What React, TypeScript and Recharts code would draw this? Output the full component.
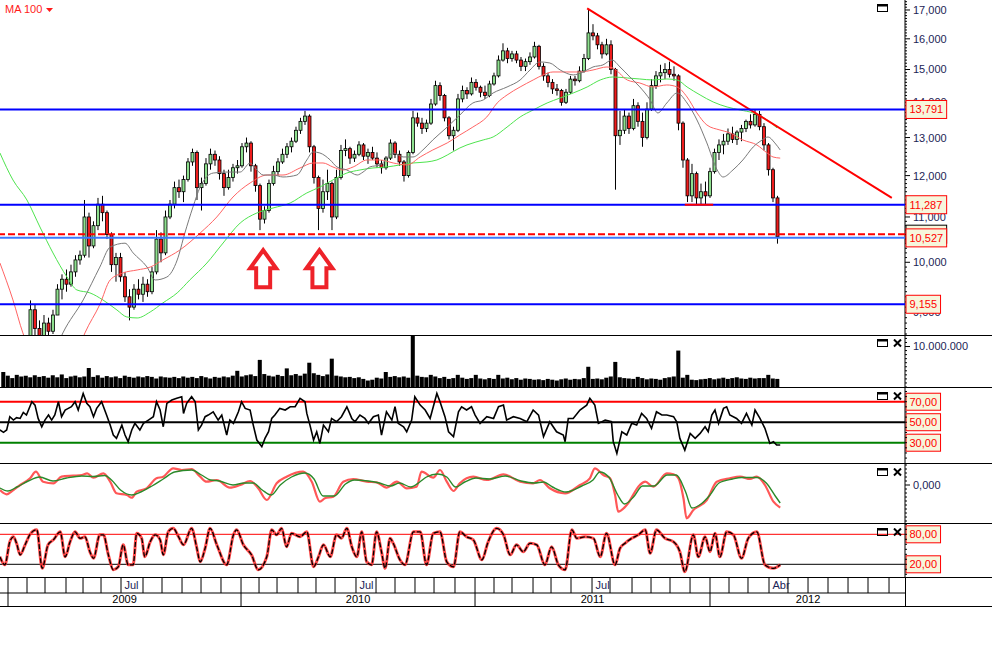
import React from "react";
import { ComposedChart, Bar, Line, XAxis, YAxis, ReferenceLine, ReferenceDot } from "recharts";

const FONT = '"Liberation Sans", Arial, sans-serif';
const TICK_COLOR = "#1c2456";
const CHART_W = 992;
const AXIS_W = 85;
const MARGIN = { top: 0, right: 2, bottom: 0, left: 0 };
// x is counted in weeks from the first trading week of 2009
const X_DOMAIN: [number, number] = [-1.78, 199.33];
const PRICE_DOMAIN: [number, number] = [8582, 17361];

// weekly candles [open, high, low, close], first one is week 4
const firstCandleWeek = 4;
const candles: [number, number, number, number][] = [
  [8300, 8550, 8050, 8450], [8450, 9230, 8400, 9050], [9050, 9150, 8500, 8700], [8700, 8850, 8300, 8450],
  [8450, 8950, 8400, 8800], [8800, 8900, 8500, 8650], [8650, 9050, 8600, 8950], [8950, 9550, 8950, 9450],
  [9450, 9750, 9250, 9650], [9650, 9850, 9400, 9550], [9550, 9950, 9500, 9800], [9800, 10150, 9700, 10050],
  [10050, 10250, 9950, 10150], [10150, 11400, 10100, 11000], [11000, 11100, 10100, 10350], [10350, 10900, 10300, 10800],
  [10800, 11450, 10700, 11300], [11300, 11500, 10900, 11100], [11100, 11150, 10500, 10600], [10600, 10650, 9800, 9950],
  [9950, 10200, 9600, 10100], [10100, 10200, 9600, 9700], [9700, 9800, 9200, 9300], [9300, 9450, 8850, 9100],
  [9100, 9550, 9050, 9450], [9450, 9650, 9250, 9350], [9350, 9700, 9200, 9550], [9550, 9650, 9300, 9400],
  [9400, 9900, 9350, 9800], [9800, 10700, 9750, 10500], [10500, 10650, 10000, 10200], [10200, 11150, 10150, 11000],
  [11000, 11400, 10950, 11300], [11300, 11850, 11200, 11700], [11700, 11900, 11450, 11600], [11600, 12000, 11350, 11900],
  [11900, 12450, 11850, 12350], [12350, 12700, 12250, 12600], [12600, 12650, 11400, 11700], [11700, 11950, 11150, 11800],
  [11800, 12450, 11750, 12300], [12300, 12700, 12150, 12550], [12550, 12650, 12250, 12400], [12400, 12500, 11900, 12050],
  [12050, 12150, 11500, 11700], [11700, 12150, 11650, 11950], [11950, 12300, 11850, 12200], [12200, 12400, 12050, 12250],
  [12250, 12850, 12200, 12750], [12750, 13000, 12600, 12850], [12850, 12900, 12100, 12250], [12250, 12300, 11600, 11750],
  [11750, 11800, 10700, 10950], [10950, 11250, 10850, 11150], [11150, 11900, 11100, 11800], [11800, 12250, 11750, 12100],
  [12100, 12450, 12000, 12350], [12350, 12700, 12300, 12550], [12550, 12850, 12450, 12750], [12750, 13000, 12600, 12900],
  [12900, 13300, 12850, 13200], [13200, 13550, 13100, 13450], [13450, 13750, 13350, 13600], [13600, 13650, 12600, 12750],
  [12750, 12800, 11800, 11950], [11950, 12000, 10700, 11200], [11200, 11900, 11100, 11600], [11600, 12150, 11400, 11800],
  [11800, 11850, 10700, 11000], [11000, 12150, 10950, 11950], [11950, 12800, 11900, 12650], [12650, 12950, 12500, 12700],
  [12700, 12750, 12300, 12450], [12450, 12650, 12350, 12550], [12550, 12900, 12500, 12800], [12800, 12850, 12400, 12500],
  [12500, 12700, 12300, 12600], [12600, 12750, 12400, 12450], [12450, 12600, 12200, 12300], [12300, 12400, 12050, 12200],
  [12200, 12500, 12150, 12450], [12450, 12950, 12400, 12850], [12850, 12900, 12450, 12550], [12550, 12650, 12250, 12350],
  [12350, 12400, 11850, 12000], [12000, 12650, 11950, 12600], [12600, 13750, 12550, 13550], [13550, 13700, 13300, 13400],
  [13400, 13550, 13100, 13250], [13250, 13500, 13150, 13400], [13400, 14100, 13350, 13950], [13950, 14650, 13900, 14500],
  [14500, 14600, 14050, 14200], [14200, 14250, 13450, 13550], [13550, 13600, 12950, 13050], [13050, 13300, 12650, 13200],
  [13200, 14250, 13150, 14100], [14100, 14500, 14000, 14350], [14350, 14450, 14100, 14250], [14250, 14750, 14200, 14600],
  [14600, 14700, 14350, 14450], [14450, 14500, 14150, 14300], [14300, 14500, 14100, 14200], [14200, 14650, 14150, 14550],
  [14550, 14900, 14500, 14800], [14800, 15450, 14750, 15300], [15300, 15850, 15250, 15600], [15600, 15700, 15200, 15350],
  [15350, 15600, 15250, 15500], [15500, 15600, 15200, 15300], [15300, 15400, 14950, 15100], [15100, 15350, 14950, 15250],
  [15250, 15550, 15150, 15400], [15400, 15900, 15350, 15750], [15750, 15800, 15000, 15100], [15100, 15200, 14650, 14800],
  [14800, 14900, 14450, 14600], [14600, 14700, 14250, 14400], [14400, 14550, 14200, 14350], [14350, 14400, 13900, 14000],
  [14000, 14400, 13950, 14300], [14300, 14800, 14250, 14700], [14700, 14800, 14500, 14650], [14650, 15100, 14600, 14950],
  [14950, 15500, 14900, 15350], [15350, 17000, 15300, 16200], [16200, 16500, 15950, 16100], [16100, 16200, 15650, 15800],
  [15800, 15900, 15350, 15500], [15500, 16000, 15450, 15800], [15800, 15950, 14850, 15000], [15000, 15050, 11650, 13050],
  [13050, 13750, 12800, 13200], [13200, 13800, 13100, 13600], [13600, 13700, 13100, 13250], [13250, 14100, 13200, 13900],
  [13900, 14000, 13300, 13450], [13450, 13700, 12750, 13000], [13000, 14000, 12950, 13800], [13800, 14700, 13750, 14500],
  [14500, 14950, 14400, 14800], [14800, 15150, 14600, 14900], [14900, 15200, 14700, 15000], [15000, 15250, 14750, 14850],
  [14850, 15100, 14650, 14800], [14800, 14850, 13200, 13400], [13400, 13450, 12200, 12400], [12400, 12450, 11350, 11500],
  [11500, 12300, 11350, 12050], [12050, 12100, 11280, 11450], [11450, 11800, 11300, 11600], [11600, 11850, 11300, 11500],
  [11500, 12200, 11450, 12100], [12100, 12700, 12050, 12600], [12600, 12950, 12400, 12800], [12800, 13100, 12550, 12900],
  [12900, 13250, 12800, 13100], [13100, 13300, 12850, 12950], [12950, 13200, 12800, 13150], [13150, 13350, 12900, 13250],
  [13250, 13500, 13150, 13450], [13450, 13650, 13250, 13350], [13350, 13800, 13300, 13650], [13650, 13750, 13200, 13300],
  [13300, 13400, 12650, 12800], [12800, 12850, 12000, 12150], [12150, 12200, 11350, 11450], [11450, 11500, 10400, 10550],
];

// moving averages [week, value]
const grayMA: [number, number][] = [
  [10.4, 8300], [12.2, 8620], [16.7, 9238], [20.4, 9900], [22.7, 10325], [26, 10410], [27.8, 10200], [30.9, 9900],
  [32.7, 9635], [35.3, 9695], [37.6, 10049], [39.3, 10635], [41.1, 11233], [42.7, 11715], [45.6, 12065], [48.7, 12090],
  [51.6, 12090], [53.8, 12320], [55.3, 12143], [56.7, 12015], [58.9, 12015], [61.1, 11965], [64.2, 12015], [66.4, 12401],
  [67.8, 12612], [69.3, 12585], [71.6, 12401], [73.1, 12220], [75.3, 12143], [77.6, 12015], [78.9, 12090], [80.4, 12220],
  [82.7, 12272], [85.6, 12585], [87.8, 12480], [90, 12480], [92.2, 12665], [94.4, 12934], [97.6, 13290], [100.4, 13630],
  [103.3, 13980], [105.6, 14069], [107.8, 14277], [110.9, 14459], [113.8, 14673], [116, 14985], [118.2, 15240], [120.4, 15207],
  [122.7, 14985], [125.6, 14830], [127.8, 14922], [130, 15080], [132.2, 15145], [134.2, 15304], [136, 15080], [138.2, 14766],
  [140.4, 14460], [142.7, 14069], [144.4, 13690], [146.4, 13980], [148.7, 14277], [150.9, 13980], [153.1, 13489], [155.3, 12853],
  [157.6, 12143], [158.9, 11965], [161.1, 12143], [163.3, 12401], [165.6, 12745], [167.6, 12934], [168.9, 13016], [170.4, 12853],
  [171.6, 12665],
];
const redMA: [number, number][] = [
  [-1.8, 9985], [1.1, 9238], [3.3, 8620], [7, 8050], [11.5, 7950], [15, 8200], [17.1, 8620], [20.4, 9150], [22.7, 9635],
  [25.6, 9780], [28.7, 9840], [31.6, 9900], [34.4, 10049], [38.2, 10262], [42.7, 10635], [46.4, 11000], [50, 11472],
  [53.8, 11815], [57.6, 12015], [61.1, 12015], [64.9, 12194], [67.8, 12323], [70, 12323], [72.2, 12220], [74.4, 12143],
  [76.7, 12220], [79.8, 12401], [82.7, 12401], [85.6, 12323], [88.7, 12272], [91.6, 12480], [94.4, 12665], [97.6, 12853],
  [100.4, 13070], [103.3, 13290], [106.4, 13575], [108.7, 13980], [110.9, 14218], [113.8, 14459], [116.7, 14673], [118.9, 14830],
  [121.1, 14922], [124.2, 14922], [127.1, 14922], [130, 14985], [133.1, 15080], [134.4, 15050], [137.6, 14673], [140.4, 14580],
  [143.3, 14459], [146.4, 14520], [148.7, 14459], [150.9, 14158], [153.1, 13690], [155.3, 13348], [158.2, 13208], [160.4, 13130],
  [163.3, 12934], [166.4, 12800], [168.7, 12585], [170, 12480], [171.6, 12450],
];
const greenMA: [number, number][] = [
  [-1.8, 12585], [1.1, 11890], [4.2, 11400], [7.1, 10770], [10, 10198], [13.1, 9696], [15.3, 9435], [18.2, 9377],
  [21.1, 9238], [24.2, 9046], [26.4, 8914], [28.7, 8895], [31.6, 9008], [34.4, 9180], [37.6, 9377], [40.4, 9635],
  [44.2, 9985], [47.8, 10414], [51.6, 10862], [55.3, 11093], [58.9, 11210], [62.7, 11328], [66.4, 11570], [69.3, 11715],
  [72.2, 11890], [75.3, 12065], [78.2, 12143], [81.1, 12194], [84.2, 12220], [87.1, 12272], [90, 12323], [93.1, 12350],
  [95.3, 12401], [97.6, 12530], [100.4, 12718], [102, 12800], [105.6, 12934], [107.8, 13016], [110.9, 13290], [113.8, 13575],
  [116.7, 13776], [119.8, 13980], [122.7, 14128], [125.6, 14277], [128.7, 14459], [131.6, 14673], [134.4, 14766], [137.6, 14735],
  [140.4, 14704], [143.3, 14673], [146.4, 14704], [148.7, 14673], [150.9, 14459], [153.8, 14218], [156.7, 14010], [159.8, 13863],
  [162.7, 13776], [165.6, 13690], [168.7, 13489], [170.9, 13264],
];

const trendLine: [number, number][] = [[128.7, 17060], [196.4, 11450]];
const supportSegment: [number, number][] = [[150.4, 11287], [156.7, 11287]];
const levelLines: [number, string][] = [[13791, "13,791"], [11287, "11,287"], [9155, "9,155"]];
const lowLevel: [number, string] = [10527, "10,527"];
const dashedLevel = 10609;
const arrowSpots: [number, number][] = [[56.7, 10300], [69.2, 10300]];

// weekly volume in millions, first value is week -1
const firstVolumeWeek = -1;
const volumes = [
  3.7, 2.8, 2.2, 3.0, 2.6, 2.8, 2.4, 2.9, 2.5, 2.7,
  2.3, 2.9, 2.4, 3.1, 2.2, 2.6, 2.8, 2.4, 2.6, 4.7,
  2.5, 2.9, 2.3, 2.7, 2.4, 2.6, 2.2, 2.8, 2.5, 2.3,
  2.6, 2.4, 2.7, 2.5, 2.1, 2.6, 2.4, 2.3, 2.5, 2.2,
  2.6, 2.3, 2.5, 2.2, 2.7, 2.4, 2.1, 2.5, 2.3, 2.6,
  2.4, 2.8, 4.0, 2.6, 2.9, 3.1, 2.7, 6.7, 3.2, 2.8,
  2.6, 3.0, 2.7, 4.6, 2.9, 3.2, 2.8, 3.3, 6.0, 3.4,
  3.0, 2.7, 3.1, 7.0, 2.8, 2.6, 2.4, 2.5, 2.2, 2.4,
  2.0, 1.6, 1.8, 2.3, 2.1, 3.7, 2.5, 2.7, 2.4, 2.6,
  2.3, 13.0, 2.8, 2.5, 2.4, 3.0, 2.6, 2.2, 2.5, 2.0,
  2.2, 3.0, 2.3, 2.0, 2.2, 3.0, 2.1, 1.9, 2.2, 2.0,
  3.0, 2.1, 2.3, 1.9, 2.2, 1.8, 2.1, 2.0, 1.8, 1.9,
  1.7, 2.0, 1.8, 1.6, 1.9, 2.1, 1.8, 2.0, 1.9, 2.2,
  5.0, 2.0, 2.1, 1.9, 2.3, 2.6, 6.2, 2.4, 2.2, 2.1,
  2.0, 2.5, 2.2, 1.9, 2.1, 2.0, 1.8, 2.2, 2.4, 2.6,
  9.0, 2.3, 3.0, 1.8, 1.7, 1.9, 2.0, 2.2, 1.9, 2.1,
  2.3, 2.0, 2.2, 2.4, 2.1, 2.0, 2.3, 2.1, 2.2, 2.2,
  3.0, 2.1, 2.0,
];

const rsi: [number, number][] = [
  [-1.8, 42.4], [-1.0, 40.1], [-0.3, 42.4], [0.4, 55.4], [1.2, 52.1], [1.9, 54.4], [2.7, 53.7], [3.4, 59.6], [4.1, 57],
  [5.3, 70], [6.0, 66.7], [6.7, 53.7], [7.5, 45.6], [8.2, 52.1], [9.0, 57], [9.7, 52.1], [10.4, 57], [11.2, 70], [11.9, 55.4],
  [12.7, 61.9], [13.4, 63.5], [14.1, 65.1], [14.9, 70], [15.6, 61.9], [16.7, 78.1], [17.5, 68.4], [18.2, 65.1], [19.0, 55.4],
  [19.7, 63.5], [20.8, 70], [21.9, 57], [22.7, 47.2], [23.4, 37.5], [24.1, 34.2], [25.3, 47.2], [26.0, 37.5], [26.7, 31],
  [27.5, 42.4], [28.2, 48.9], [29.3, 42.4], [30.1, 48.9], [31.2, 52.1], [32.3, 55.4], [33.0, 70], [33.8, 61.9], [34.5, 45.6],
  [35.3, 68.4], [36.4, 71.6], [37.5, 73.3], [38.6, 74.9], [39.0, 58.6], [39.7, 68.4], [40.8, 74.9], [41.6, 70], [42.3, 42.4],
  [43.0, 47.2], [43.8, 55.4], [44.5, 57], [45.6, 60.2], [46.7, 52.1], [47.5, 57], [48.6, 37.5], [49.3, 52.1], [50.1, 48.9],
  [51.2, 60.2], [51.9, 70], [52.7, 63.5], [53.8, 61.9], [54.5, 47.2], [55.3, 32.6], [56.4, 26.1], [57.1, 34.2], [57.9, 40.7],
  [58.6, 53.7], [59.3, 57], [60.4, 63.5], [61.6, 61.9], [62.7, 65.1], [63.8, 65.1], [64.9, 73.3], [66.0, 70], [66.4, 58.6],
  [67.1, 47.2], [67.9, 32.6], [68.6, 40.7], [69.3, 29.3], [70.1, 47.2], [71.2, 40.7], [71.9, 53.7], [73.0, 50.5], [74.1, 55.4],
  [75.3, 65.1], [76.4, 53.7], [77.1, 50.5], [78.2, 57], [79.3, 53.7], [80.1, 48.9], [81.2, 55.4], [82.3, 57], [83.0, 37.5],
  [84.1, 60.2], [85.3, 52.1], [86.0, 65.1], [86.7, 48.9], [87.9, 45.6], [88.6, 40.7], [89.7, 52.1], [90.4, 74.9], [91.6, 66.7],
  [92.7, 61.9], [93.8, 53.7], [95.3, 78.1], [96.0, 70], [97.1, 55.4], [97.9, 40.7], [99.0, 35.9], [100.1, 60.2], [100.8, 65.1],
  [101.9, 61.9], [103.0, 65.1], [103.8, 57], [104.9, 48.9], [106.4, 55.4], [107.9, 53.7], [109.0, 65.1], [110.1, 66.7],
  [110.8, 52.1], [112.3, 55.4], [113.8, 53.7], [115.3, 50.5], [116.7, 61.9], [117.9, 57], [119.0, 35.9], [120.4, 50.5],
  [121.9, 40.7], [123.4, 37.5], [123.8, 31], [124.5, 53.7], [125.6, 53.7], [127.1, 61.9], [128.6, 66.7], [129.3, 73.3],
  [130.4, 66.7], [131.2, 48.9], [132.7, 52.1], [134.1, 50.5], [134.5, 31], [135.3, 19.6], [136.4, 40.7], [137.5, 37.5],
  [138.6, 48.9], [139.7, 47.2], [140.8, 58.6], [141.9, 53.7], [143.0, 44], [144.1, 60.2], [145.3, 57], [146.4, 57],
  [147.9, 55.4], [148.6, 50.5], [149.3, 34.2], [150.4, 22.8], [151.6, 39.1], [152.7, 34.2], [153.8, 39.1], [154.9, 45.6],
  [155.6, 40.7], [156.4, 57], [157.1, 61.9], [157.9, 48.9], [159.0, 63.5], [159.7, 65.1], [160.4, 57], [161.9, 53.7],
  [163.0, 48.9], [164.1, 58.6], [165.3, 47.2], [166.0, 61.9], [167.1, 53.7], [168.2, 44], [169.3, 29.3], [170.1, 31],
  [170.8, 27.7], [171.6, 27.7],
];

const macd: [number, number][] = [
  [-1.8, -50], [-0.3, -93], [1.2, -50], [2.7, 0], [4.9, 67], [6.2, 133], [7.8, 33], [10.1, 17], [11.9, 83], [14.5, 93],
  [16.4, 100], [17.6, 117], [19.0, 73], [21.2, 117], [22.7, 33], [24.1, -83], [26.4, -100], [27.5, -127], [28.6, -67],
  [30.8, -33], [33.0, 67], [34.5, 83], [36.7, 167], [38.6, 150], [40.8, 160], [42.7, 83], [44.1, 33], [46.4, 50], [49.3, -27],
  [51.6, 0], [53.8, 40], [55.6, -33], [57.5, -150], [59.7, 17], [61.9, 83], [65.6, 133], [67.5, 33], [69.3, -167],
  [70.4, -133], [72.3, -117], [74.5, 33], [76.7, 60], [79.7, 33], [81.9, 27], [84.1, -27], [86.4, 33], [88.6, -33],
  [90.8, -17], [91.9, 133], [94.5, 73], [96.0, 150], [97.5, 33], [99.0, -60], [100.4, 17], [103.4, 83], [106.4, 50],
  [110.1, 107], [113.8, 33], [116.7, 17], [118.2, 50], [120.4, -33], [123.8, -83], [127.1, 0], [129.3, 67], [130.4, 167],
  [132.3, 100], [133.8, 67], [134.9, -100], [135.6, -267], [137.5, -200], [140.4, 0], [141.6, 33], [143.4, -17], [146.4, 117],
  [147.9, 107], [149.0, 67], [150.1, -133], [150.8, -333], [152.3, -250], [155.3, -150], [157.5, 33], [160.4, 67], [162.7, 83],
  [164.9, 60], [166.4, 83], [168.2, 0], [170.1, -167], [171.6, -227],
];
const macdSignal: [number, number][] = [
  [-1.8, -30], [0, -60], [2, -20], [4.5, 40], [7, 80], [10, 40], [13, 70], [16.4, 90], [19, 85], [21.5, 95], [23, 50],
  [25, -50], [27.5, -100], [29.5, -70], [32, -10], [34.5, 60], [37, 130], [40.8, 150], [43, 100], [45, 50], [47, 40],
  [50, 0], [52.5, 20], [54.5, 20], [56.5, -50], [58.5, -100], [60.5, 0], [63, 80], [66, 120], [68, 60], [70, -110],
  [72.5, -110], [75, 10], [77, 50], [80, 40], [82.5, 20], [85, -10], [87, 20], [89.5, -20], [91.5, 30], [93, 80],
  [95.5, 110], [97.5, 80], [99.5, -20], [101.5, 30], [104, 70], [107, 60], [110.5, 90], [114, 40], [117, 20], [119, 30],
  [121, -20], [124, -70], [127.5, -10], [130, 50], [131.5, 130], [133.5, 80], [135.5, -100], [137, -190], [139, -120],
  [141, -10], [143.5, -10], [146.5, 100], [148.5, 100], [150.5, -60], [152, -230], [154, -190], [156, -100], [158, 20],
  [161, 60], [163, 75], [166.5, 75], [168.5, 20], [170.5, -110], [171.6, -180],
];

const stoch: [number, number][] = [
  [-1.8, 35], [-0.7, 19], [0.4, 65], [1.2, 75], [1.9, 62], [2.7, 39], [3.8, 59], [4.9, 80], [6.4, 89], [7.6, 12], [8.9, 59],
  [10.1, 69], [11.6, 85], [12.7, 35], [13.8, 65], [14.9, 85], [16.0, 72], [17.1, 75], [18.2, 45], [19.0, 32], [20.4, 79],
  [21.2, 79], [22.3, 39], [23.4, 9], [24.5, 15], [25.6, 59], [26.7, 19], [27.8, 19], [28.6, 82], [29.7, 72], [30.4, 35],
  [31.6, 65], [32.7, 79], [33.8, 69], [34.5, 39], [35.6, 85], [36.7, 92], [37.9, 75], [39.0, 59], [40.8, 92], [41.9, 55],
  [42.7, 25], [43.8, 52], [44.9, 92], [46.4, 59], [48.6, 19], [50.1, 79], [50.8, 89], [52.3, 59], [54.1, 39], [55.6, 9],
  [57.5, 35], [58.6, 89], [59.7, 79], [60.8, 92], [61.9, 55], [63.0, 82], [64.9, 75], [66.4, 85], [67.9, 15], [69.0, 35],
  [70.1, 59], [71.6, 35], [73.0, 79], [74.1, 72], [75.3, 92], [76.4, 55], [77.5, 35], [78.6, 85], [79.7, 25], [80.8, 19],
  [81.9, 85], [83.0, 45], [83.8, 12], [84.9, 72], [85.6, 62], [87.1, 29], [88.2, 19], [90.1, 85], [91.6, 85], [93.0, 19],
  [94.5, 82], [96.0, 85], [97.5, 25], [99.0, 15], [100.4, 85], [101.9, 75], [103.4, 69], [105.3, 29], [106.7, 65], [108.6, 92],
  [110.1, 79], [111.6, 39], [113.0, 59], [114.5, 45], [116.0, 62], [117.5, 59], [119.3, 19], [120.8, 55], [122.3, 19],
  [123.8, 9], [125.3, 89], [126.4, 72], [128.2, 75], [130.1, 72], [131.6, 35], [133.0, 82], [134.9, 19], [136.0, 52],
  [137.1, 62], [138.6, 72], [140.1, 79], [141.6, 89], [142.7, 42], [144.1, 89], [146.0, 72], [147.9, 65], [149.3, 45],
  [150.4, 5], [152.3, 79], [153.4, 35], [154.9, 75], [156.0, 45], [157.1, 82], [158.2, 35], [159.7, 85], [161.2, 79],
  [163.0, 32], [164.5, 72], [166.4, 85], [168.2, 19], [170.1, 12], [171.6, 19],
];

// calendar strip
const monthStarts = [
  0, 4.22, 8.22, 12.89, 16.67, 20.67, 25.11, 30, 34.22, 38.67, 42.89, 47.33, 51.78, 55.78, 59.78, 64.44, 68.44, 72.67,
  77.33, 81.78, 86, 90.44, 94.67, 99.33, 103.78, 108, 112, 116.67, 120.67, 125.11, 129.78, 133.78, 138.67, 142.89, 147.11,
  151.56, 156, 160.22, 164.44, 169.11, 173.33, 177.78, 182.22, 186.67, 191.11, 195.78,
];
const monthLabels: [number, string][] = [[25.11, "Jul"], [77.33, "Jul"], [129.78, "Jul"], [169.11, "Abr"]];
const yearStarts = [0, 51.78, 103.78, 156];
const yearLabels: [number, string][] = [[25.9, "2009"], [77.8, "2010"], [129.9, "2011"], [177.8, "2012"]];

const priceTicks: number[] = [];
for (let v = 8600; v <= 17300; v += 100) priceTicks.push(v);

const pairs = (a: [number, number][]) => a.map(([w, v]) => ({ w, v }));
const candleRows = candles.map(([o, h, l, c], i) => ({ w: firstCandleWeek + i, o, h, l, c, range: [l, h] }));
const volumeRows = volumes.map((v, i) => ({ w: firstVolumeWeek + i, v }));

function Candle(props: any) {
  const { x, y, width, height, payload } = props;
  if (!payload || height == null || isNaN(y)) return null;
  const { o, h, l, c } = payload;
  const lh = Math.log(h);
  const span = lh - Math.log(l);
  const py = (v: number) => y + (height * (lh - Math.log(v))) / span;
  const cx = x + width / 2;
  const top = py(Math.max(o, c));
  const bot = py(Math.min(o, c));
  return (
    <g>
      <line x1={cx} x2={cx} y1={y} y2={y + height} stroke="#000" strokeWidth={1} />
      <rect x={cx - 1.5} y={top} width={3} height={Math.max(1, bot - top)} fill={c >= o ? "#8ee08e" : "#ee1c1c"} stroke="#000" strokeWidth={0.8} />
    </g>
  );
}

function AxisTick(props: any) {
  const { x, y, payload, isMajor, format } = props;
  const major = isMajor ? isMajor(payload.value) : false;
  return (
    <g>
      <line x1={x} x2={x + (major ? 5 : 2)} y1={y} y2={y} stroke="#000" strokeWidth={1} />
      {major && format ? (
        <text x={x + 8} y={y} dy="0.36em" fontSize={11} fontFamily={FONT} fill={TICK_COLOR}>
          {format(payload.value)}
        </text>
      ) : null}
    </g>
  );
}

function ValueBox(props: any) {
  const { viewBox, text, h = 18, border = "#ff0000" } = props;
  if (!viewBox) return null;
  const x = viewBox.x + viewBox.width + 1;
  const y = viewBox.y;
  const digits = text ? text.replace(/[^0-9]/g, "").length : 5;
  const seps = text ? text.length - digits : 1;
  const tw = digits * 6.12 + seps * 3.06;
  return (
    <g>
      <rect x={x} y={y - h / 2} width={tw + 7} height={h} fill="#f6f6dc" stroke={border} strokeWidth={1} />
      {text ? (
        <text x={x + 3.5} y={y} dy="0.36em" fontSize={11} fontFamily={FONT} fill="#ff0000">{text}</text>
      ) : null}
    </g>
  );
}

function UpArrow(props: any) {
  const { cx, cy } = props;
  if (cx == null || cy == null) return null;
  const d = `M${cx} ${cy + 2} L${cx + 13} ${cy + 20} L${cx + 7} ${cy + 20} L${cx + 7} ${cy + 39} L${cx - 7} ${cy + 39} L${cx - 7} ${cy + 20} L${cx - 13} ${cy + 20} Z`;
  return <path d={d} fill="#fff" stroke="#ee2229" strokeWidth={4} />;
}

function WinIcon({ x, y, close }: { x: number; y: number; close?: boolean }) {
  return (
    <svg style={{ position: "absolute", left: x, top: y }} width={28} height={10}>
      <rect x={0.5} y={0.5} width={10} height={7} fill="none" stroke="#000" strokeWidth={1} />
      <line x1={0} x2={11} y1={1.5} y2={1.5} stroke="#000" strokeWidth={2} />
      {close ? <path d="M17 0.5 L24 7.5 M24 0.5 L17 7.5" stroke="#000" strokeWidth={2} /> : null}
    </svg>
  );
}

const hLine = (top: number, width = CHART_W) => (
  <div style={{ position: "absolute", left: 0, top, width, height: 1, background: "#000" }} />
);

const fmtPrice = (v: number) => v.toLocaleString("en-US");
const fmtVolume = (v: number) => String(Math.round(v * 1000000)).replace(/\B(?=(\d{3})+(?!\d))/g, ".");

const lineProps = { dot: false, activeDot: false, isAnimationActive: false } as const;

export default function App() {
  const range = (a: number, b: number, s: number) => {
    const r: number[] = [];
    for (let v = a; v <= b + 1e-9; v += s) r.push(v);
    return r;
  };
  const panelX = <XAxis dataKey="w" type="number" domain={X_DOMAIN} allowDataOverflow hide />;
  const yAxis = (domain: [number, number], ticks: number[], isMajor?: (v: number) => boolean, format?: (v: number) => string, scale?: "log") => (
    <YAxis
      orientation="right"
      width={AXIS_W}
      type="number"
      scale={scale ?? "linear"}
      domain={domain}
      allowDataOverflow
      ticks={ticks}
      interval={0}
      tickLine={false}
      tickSize={0}
      tickMargin={0}
      axisLine={{ stroke: "#000" }}
      tick={(p: any) => <AxisTick {...p} isMajor={isMajor} format={format} />}
    />
  );

  return (
    <div style={{ position: "absolute", left: 0, top: 0, width: 992, height: 656, background: "#fff", fontFamily: FONT }}>
      <div style={{ position: "absolute", left: 0, top: 0 }}>
        <ComposedChart width={CHART_W} height={335} data={candleRows} margin={MARGIN}>
          {panelX}
          {yAxis(PRICE_DOMAIN, priceTicks, (v) => v % 1000 === 0, fmtPrice, "log")}
          <Bar dataKey="range" barSize={4} isAnimationActive={false} shape={(p: any) => <Candle {...p} />} />
          <Line data={pairs(greenMA)} dataKey="v" type="monotone" stroke="#4ee44e" strokeWidth={1} {...lineProps} />
          <Line data={pairs(redMA)} dataKey="v" type="monotone" stroke="#ff6464" strokeWidth={1} {...lineProps} />
          <Line data={pairs(grayMA)} dataKey="v" type="monotone" stroke="#7a7a7a" strokeWidth={1} {...lineProps} />
          <Line data={pairs(trendLine)} dataKey="v" stroke="#ff0000" strokeWidth={2} {...lineProps} />
          {arrowSpots.map(([w, v]) => (
            <ReferenceDot key={w} x={w} y={v} r={0} shape={(p: any) => <UpArrow {...p} />} />
          ))}
        </ComposedChart>
      </div>

      {/* level lines and their value boxes sit above the price scale labels */}
      <div style={{ position: "absolute", left: 0, top: 0 }}>
        <ComposedChart width={CHART_W} height={335} margin={MARGIN}>
          {panelX}
          <YAxis orientation="right" width={AXIS_W} type="number" scale="log" domain={PRICE_DOMAIN} allowDataOverflow tick={false} axisLine={false} tickLine={false} />
          {levelLines.map(([v, t]) => (
            <ReferenceLine key={t} y={v} stroke="#0000ff" strokeWidth={2} label={<ValueBox text={t} />} />
          ))}
          <ReferenceLine y={dashedLevel} stroke="#ff0000" strokeWidth={2} strokeDasharray="7 3" label={<ValueBox text="" border="#000" />} />
          <ReferenceLine y={lowLevel[0]} stroke="#3a78ff" strokeWidth={2} label={<ValueBox text={lowLevel[1]} />} />
          <Line data={pairs(supportSegment)} dataKey="v" stroke="#ff0000" strokeWidth={2} {...lineProps} />
        </ComposedChart>
      </div>

      <div style={{ position: "absolute", left: 0, top: 336 }}>
        <ComposedChart width={CHART_W} height={51} data={volumeRows} margin={MARGIN}>
          {panelX}
          {yAxis([0, 12.6], range(0, 12, 1), (v) => v === 10, fmtVolume)}
          <Bar dataKey="v" fill="#000" barSize={5} isAnimationActive={false} />
        </ComposedChart>
      </div>

      <div style={{ position: "absolute", left: 0, top: 388 }}>
        <ComposedChart width={CHART_W} height={75} margin={MARGIN}>
          {panelX}
          {yAxis([10.2, 83.4], range(15, 80, 5))}
          <ReferenceLine y={70} stroke="#ff0000" strokeWidth={2} label={<ValueBox text="70,00" h={17} />} />
          <ReferenceLine y={50} stroke="#000" strokeWidth={2} label={<ValueBox text="50,00" h={17} />} />
          <ReferenceLine y={30} stroke="#008000" strokeWidth={2} label={<ValueBox text="30,00" h={17} />} />
          <Line data={pairs(rsi)} dataKey="v" stroke="#000" strokeWidth={1.6} {...lineProps} />
        </ComposedChart>
      </div>

      <div style={{ position: "absolute", left: 0, top: 464 }}>
        <ComposedChart width={CHART_W} height={59} margin={MARGIN}>
          {panelX}
          {yAxis([-380, 210], range(-360, 200, 40), (v) => v === 0, () => "0,000")}
          <Line data={pairs(macd)} dataKey="v" type="monotone" stroke="#ff3a3a" strokeWidth={2.2} strokeOpacity={0.85} {...lineProps} />
          <Line data={pairs(macdSignal)} dataKey="v" type="monotone" stroke="#2a8a2a" strokeWidth={1.4} {...lineProps} />
        </ComposedChart>
      </div>

      <div style={{ position: "absolute", left: 0, top: 524 }}>
        <ComposedChart width={CHART_W} height={53} margin={MARGIN}>
          {panelX}
          {yAxis([-5.4, 100.6], range(0, 100, 10))}
          <ReferenceLine y={80} stroke="#ff0000" strokeWidth={1} label={<ValueBox text="80,00" h={17} />} />
          <ReferenceLine y={20} stroke="#000" strokeWidth={1} label={<ValueBox text="20,00" h={17} />} />
          <Line data={pairs(stoch)} dataKey="v" type="monotone" stroke="#ff2a2a" strokeWidth={3} strokeOpacity={0.85} {...lineProps} />
          <Line data={pairs(stoch)} dataKey="v" type="monotone" stroke="#000" strokeWidth={1.3} strokeDasharray="5 2" {...lineProps} />
        </ComposedChart>
      </div>

      <div style={{ position: "absolute", left: 0, top: 577 }}>
        <ComposedChart width={CHART_W} height={29} margin={{ top: 0, right: 87, bottom: 0, left: 0 }}>
          <XAxis dataKey="w" type="number" domain={X_DOMAIN} allowDataOverflow hide />
          <YAxis type="number" domain={[0, 29]} allowDataOverflow hide />
          <ReferenceLine y={13} stroke="#000" strokeWidth={1} />
          {monthStarts.map((w) => (
            <ReferenceLine key={"m" + w} segment={[{ x: w, y: 13 }, { x: w, y: 29 }]} stroke="#000" strokeWidth={1} />
          ))}
          {yearStarts.map((w) => (
            <ReferenceLine key={"y" + w} segment={[{ x: w, y: 0 }, { x: w, y: 13 }]} stroke="#000" strokeWidth={1} />
          ))}
          {monthLabels.map(([w, t]) => (
            <ReferenceDot key={"ml" + w} x={w} y={21} r={0} shape={(p: any) => (
              <text x={p.cx + 3.5} y={p.cy} dy="0.36em" fontSize={11} fontFamily={FONT} fill={TICK_COLOR}>{t}</text>
            )} />
          ))}
          {yearLabels.map(([w, t]) => (
            <ReferenceDot key={"yl" + w} x={w} y={6.5} r={0} shape={(p: any) => (
              <text x={p.cx} y={p.cy} dy="0.36em" textAnchor="middle" fontSize={11} fontFamily={FONT} fill="#000">{t}</text>
            )} />
          ))}
        </ComposedChart>
      </div>

      {hLine(335)}
      {hLine(387)}
      {hLine(463)}
      {hLine(523)}
      {hLine(577)}
      {hLine(606)}
      <div style={{ position: "absolute", left: 905, top: 577, width: 1, height: 30, background: "#000" }} />

      <div style={{ position: "absolute", left: 5, top: 2, color: "#ff1a1a", fontSize: 11, fontFamily: FONT, lineHeight: "14px" }}>
        MA 100
        <svg width={8} height={6} style={{ marginLeft: 4, verticalAlign: "middle" }}>
          <path d="M0 1 L7 1 L3.5 5 Z" fill="#ff1a1a" />
        </svg>
      </div>
      <WinIcon x={877} y={4} />
      <WinIcon x={877} y={339} close />
      <WinIcon x={877} y={392} close />
      <WinIcon x={877} y={468} close />
      <WinIcon x={877} y={528} close />
    </div>
  );
}
